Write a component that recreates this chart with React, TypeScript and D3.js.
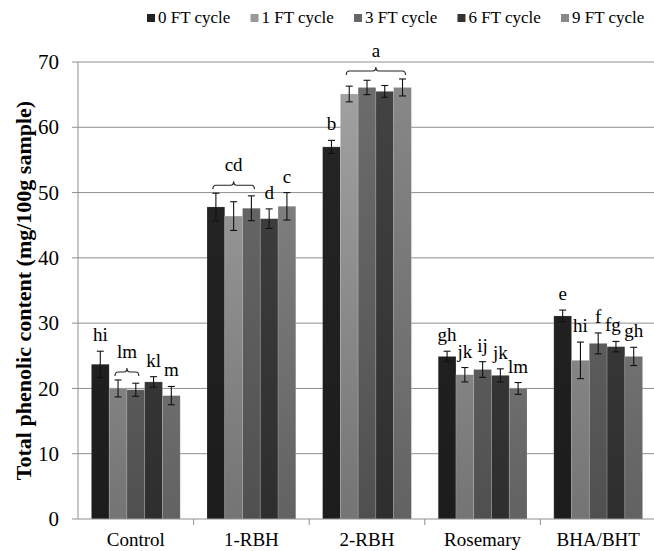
import React from 'react';
import * as d3 from 'd3';

const width = 654;
const height = 551;
const margin = { top: 62, right: -2, bottom: 32, left: 78 };

const groups = ['Control', '1-RBH', '2-RBH', 'Rosemary', 'BHA/BHT'];
const cycles = ['0 FT cycle', '1 FT cycle', '3 FT cycle', '6 FT cycle', '9 FT cycle'];

// means per cycle, one value per group
const ft0 = [23.7, 47.8, 57.0, 24.9, 31.1];
const ft1 = [20.0, 46.4, 65.1, 22.1, 24.3];
const ft3 = [19.8, 47.6, 66.1, 22.9, 26.9];
const ft6 = [21.0, 46.0, 65.5, 22.0, 26.4];
const ft9 = [18.9, 47.9, 66.1, 20.0, 24.9];

// standard deviations
const err0 = [2.0, 2.1, 1.0, 0.8, 0.9];
const err1 = [1.3, 2.2, 1.2, 1.1, 2.8];
const err3 = [1.0, 1.9, 1.1, 1.2, 1.6];
const err6 = [0.8, 1.5, 0.9, 1.0, 0.8];
const err9 = [1.4, 2.1, 1.3, 0.9, 1.4];

// letters above single bars ('' = covered by a bracket)
const letters = [
  ['hi', '', '', 'kl', 'm'],
  ['', '', '', 'd', 'c'],
  ['b', '', '', '', ''],
  ['gh', 'jk', 'ij', 'jk', 'lm'],
  ['e', 'hi', 'f', 'fg', 'gh'],
];

// brackets: group, first cycle, last cycle, letter
const brackets = [
  { group: 0, from: 1, to: 2, label: 'lm' },
  { group: 1, from: 0, to: 2, label: 'cd' },
  { group: 2, from: 1, to: 4, label: 'a' },
];

const yTicks = [0, 10, 20, 30, 40, 50, 60, 70];

const means = [ft0, ft1, ft3, ft6, ft9];
const errs = [err0, err1, err3, err6, err9];

const gradTop = ['#262626', '#a4a4a4', '#6e6e6e', '#444444', '#8a8a8a'];
const gradBottom = ['#1c1c1c', '#747474', '#505050', '#2e2e2e', '#626262'];
const legendColors = ['#222222', '#999999', '#676767', '#333333', '#888888'];

const serif = "'Liberation Serif', 'Times New Roman', Times, serif";

export default function App() {
  const innerWidth = width - margin.left - margin.right;
  const innerHeight = height - margin.top - margin.bottom;

  const x0 = d3.scaleBand().domain(groups).range([0, innerWidth]).paddingInner(0.232).paddingOuter(0.116);
  const outer = d3.scaleBand().domain(groups).range([0, innerWidth]);
  const x1 = d3.scaleBand().domain(cycles).range([0, x0.bandwidth()]);
  const y = d3.scaleLinear().domain([0, 70]).range([innerHeight, 0]);

  const barX = (g: number, c: number) => (x0(groups[g]) as number) + (x1(cycles[c]) as number);
  const bw = x1.bandwidth();
  const top = (g: number, c: number) => y(means[c][g] + errs[c][g]);

  return (
    <svg width={width} height={height} style={{ position: 'absolute', left: 0, top: 0, fontFamily: serif }}>
      <defs>
        {cycles.map((c, i) => (
          <linearGradient key={c} id={`g${i}`} gradientUnits="userSpaceOnUse" x1="0" y1={0} x2="0" y2={innerHeight}>
            <stop offset="0" stopColor={gradTop[i]} />
            <stop offset="1" stopColor={gradBottom[i]} />
          </linearGradient>
        ))}
      </defs>

      {/* legend */}
      <g style={{ fontSize: 17 }}>
        {cycles.map((c, i) => (
          <g key={c} transform={`translate(${147 + i * 103.5}, 0)`}>
            <rect x={0} y={14} width={8} height={8} fill={legendColors[i]} />
            <text x={11} y={23}>{c}</text>
          </g>
        ))}
      </g>

      <text
        transform={`translate(31, ${margin.top + innerHeight / 2}) rotate(-90)`}
        textAnchor="middle"
        style={{ fontWeight: 'bold', fontSize: 22 }}
      >
        Total phenolic content (mg/100g sample)
      </text>

      <g transform={`translate(${margin.left}, ${margin.top})`}>
        {yTicks.map(t => (
          <g key={t} transform={`translate(0, ${y(t)})`}>
            {t > 0 && <line x2={innerWidth} stroke="#8f8f8f" strokeWidth={1} />}
            <line x1={-6} x2={0} stroke="#8f8f8f" />
            <text x={-19} dy="0.34em" textAnchor="end" style={{ fontSize: 21 }}>{t}</text>
          </g>
        ))}

        {groups.map((g, gi) => (
          <g key={g}>
            {cycles.map((c, ci) => (
              <rect
                key={c}
                x={barX(gi, ci)}
                y={y(means[ci][gi])}
                width={bw}
                height={innerHeight - y(means[ci][gi])}
                fill={`url(#g${ci})`}
                stroke="rgba(255,255,255,0.18)"
                strokeWidth={0.8}
              />
            ))}
          </g>
        ))}

        {/* error bars */}
        {groups.map((g, gi) =>
          cycles.map((c, ci) => {
            const cx = barX(gi, ci) + bw / 2;
            const lo = y(means[ci][gi] - errs[ci][gi]);
            const hi = y(means[ci][gi] + errs[ci][gi]);
            return (
              <g key={g + c} stroke="#111" strokeWidth={1.1}>
                <line x1={cx} x2={cx} y1={lo} y2={hi} />
                <line x1={cx - 3.5} x2={cx + 3.5} y1={lo} y2={lo} />
                <line x1={cx - 3.5} x2={cx + 3.5} y1={hi} y2={hi} />
              </g>
            );
          })
        )}

        {/* letters */}
        <g style={{ fontSize: 19 }} textAnchor="middle">
          {groups.map((g, gi) =>
            cycles.map((c, ci) =>
              letters[gi][ci] ? (
                <text
                  key={g + c}
                  x={barX(gi, ci) + bw / 2 + (gi === 4 && ci === 3 ? -3 : 0)}
                  y={top(gi, ci) - 10}
                >
                  {letters[gi][ci]}
                </text>
              ) : null
            )
          )}
        </g>

        {brackets.map(b => {
          const xa = barX(b.group, b.from) + bw / 2 - 3;
          const xb = barX(b.group, b.to) + bw / 2 + 3;
          const maxTop = d3.min(d3.range(b.from, b.to + 1), ci => top(b.group, ci)) as number;
          const by = maxTop - 8;
          const mid = (xa + xb) / 2;
          const r = 3;
          const path = `M${xa},${by + 4} Q${xa},${by} ${xa + r},${by} L${mid - r},${by} Q${mid},${by} ${mid},${by - 4} Q${mid},${by} ${mid + r},${by} L${xb - r},${by} Q${xb},${by} ${xb},${by + 4}`;
          return (
            <g key={b.label}>
              <path d={path} fill="none" stroke="#222" strokeWidth={1.1} />
              <text x={mid} y={by - 14} textAnchor="middle" style={{ fontSize: 19 }}>{b.label}</text>
            </g>
          );
        })}

        {/* x axis */}
        <line x1={0} x2={innerWidth} y1={innerHeight} y2={innerHeight} stroke="#8f8f8f" />
        <line x1={0} x2={0} y1={0} y2={innerHeight} stroke="#8f8f8f" />
        {groups.map((g, gi) => (
          <g key={g}>
            {gi > 0 && (
              <line x1={outer(g)} x2={outer(g)} y1={innerHeight} y2={innerHeight + 6} stroke="#8f8f8f" />
            )}
            <text
              x={(outer(g) as number) + outer.bandwidth() / 2}
              y={innerHeight + 27}
              textAnchor="middle"
              style={{ fontSize: 19 }}
            >
              {g}
            </text>
          </g>
        ))}
      </g>
    </svg>
  );
}
